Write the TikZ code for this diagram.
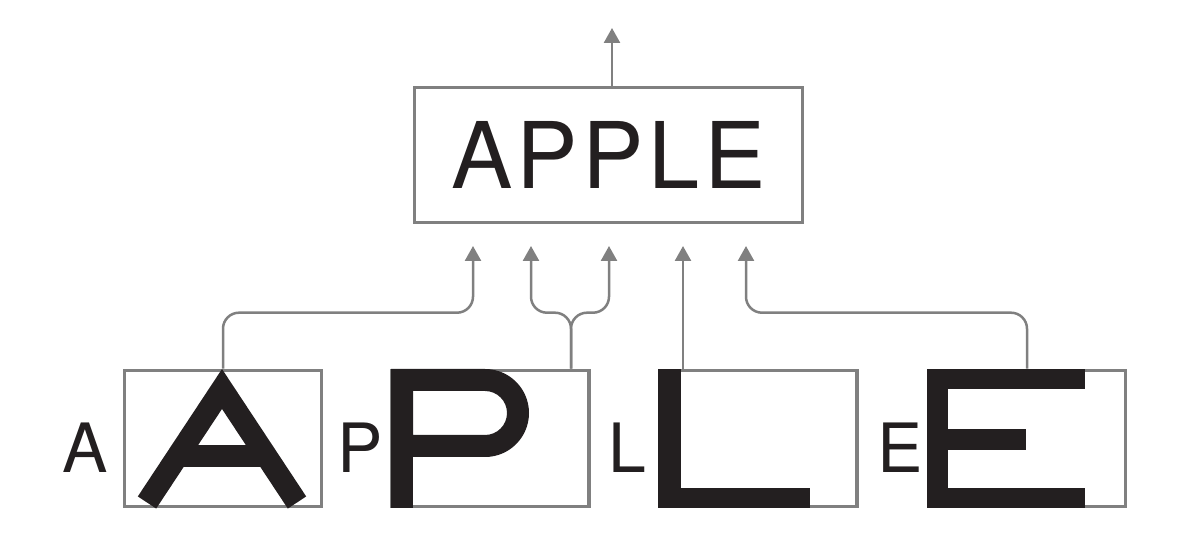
\documentclass[tikz,border=0pt]{standalone}
\usepackage{fontspec}
\setmainfont{TeX Gyre Heros}
\usetikzlibrary{arrows.meta}
\definecolor{linegrey}{HTML}{808080}
\definecolor{ink}{HTML}{231F20}
\begin{document}
\begin{tikzpicture}[x=1pt,y=-1pt,
  box/.style={draw=linegrey, line width=3.6pt, inner sep=0pt},
  smallbox/.style={box, minimum width=197pt, minimum height=136pt},
  conn/.style={draw=linegrey, line width=2.5pt, rounded corners=16pt,
    -{Triangle[width=16pt,length=15pt]}},
  lbl/.style={font=\fontsize{68}{68}\selectfont, text=ink, inner sep=0pt, anchor=base west},
  glyph/.style={fill=ink}]
\useasboundingbox (0,0) rectangle (1200,534);

% top word box
\node[box, minimum width=388pt, minimum height=135pt, text=ink,
  font=\fontsize{92}{92}\selectfont\addfontfeature{LetterSpace=5}] (word) at (608.5,155) {APPLE};

% bottom boxes
\node[smallbox] (bA) at (223,438.5) {};
\node[smallbox] (bP) at (490.5,438.5) {};
\node[smallbox] (bL) at (758.5,438.5) {};
\node[smallbox] (bE) at (1027,438.5) {};

% small labels
\node[lbl] (lA) at (62,472) {A};
\node[lbl] (lP) at (337,472) {P};
\node[lbl] (lL) at (608,472) {L};
\node[lbl] (lE) at (877.5,472) {E};

% big A
\draw[ink, line width=22pt, line join=miter] (147,502.5) -- (222,389) -- (297,502.5);
\fill[glyph] (176,445) rectangle (268,467);

% big P
\fill[glyph] (391,369) rectangle (413,508);
\fill[glyph, even odd rule]
  (391,369) -- (485,369) arc[start angle=90, end angle=-90, radius=44pt] -- (391,457) -- cycle
  (413,391) -- (485,391) arc[start angle=90, end angle=-90, radius=22pt] -- (413,435) -- cycle;

% big L
\fill[glyph] (658,369) rectangle (681,508);
\fill[glyph] (658,488) rectangle (810,508);

% big E
\fill[glyph] (927,369) rectangle (948,508);
\fill[glyph] (927,369) rectangle (1085,389);
\fill[glyph] (927,429) rectangle (1026,450);
\fill[glyph] (927,488) rectangle (1085,508);

% arrow targets
\coordinate (tA) at (473,246);
\coordinate (tP1) at (531,246);
\coordinate (tP2) at (609,246);
\coordinate (tL) at (683,246);
\coordinate (tE) at (746,246);
\coordinate (out) at (612,28);

% connectors
\draw[conn] (bA.north) -- ++(0,-56) -| (tA);
\draw[conn] ([xshift=80.5pt]bP.north) -- ++(0,-56) -| (tP1);
\draw[conn] ([xshift=80.5pt]bP.north) -- ++(0,-56) -| (tP2);
\draw[conn] ([xshift=-75.5pt]bL.north) -- (tL);
\draw[conn] (bE.north) -- ++(0,-56) -| (tE);
\draw[conn] ([xshift=3.5pt]word.north) -- (out);
\end{tikzpicture}
\end{document}
